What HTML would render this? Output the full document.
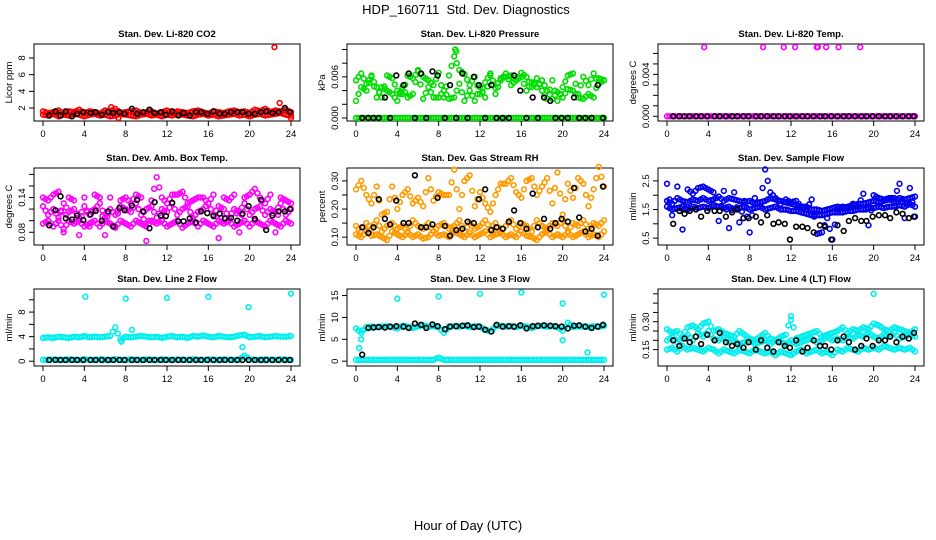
<!DOCTYPE html>
<html><head><meta charset="utf-8"><style>
html,body{margin:0;padding:0;background:#fff}
svg{display:block}
text{font-family:"Liberation Sans",sans-serif}
.pt{font-size:9.5px;font-weight:bold}
.tk{font-size:9.5px}
.yl{font-size:9.5px}
</style></head><body>
<svg id="chart" width="936" height="540" viewBox="0 0 936 540">
<text x="466" y="14" text-anchor="middle" font-size="13">HDP_160711&#160; Std. Dev. Diagnostics</text>
<text x="468" y="530" text-anchor="middle" font-size="13">Hour of Day (UTC)</text>
</svg>
<script>
// half-hour grid positions for band series (hours 0..24)
const bandHours = [0,0.5,1,1.5,2,2.5,3,3.5,4,4.5,5,5.5,6,6.5,7,7.5,8,8.5,9,9.5,10,10.5,11,11.5,12,12.5,13,13.5,14,14.5,15,15.5,16,16.5,17,17.5,18,18.5,19,19.5,20,20.5,21,21.5,22,22.5,23,23.5,24];
const blackHours = [0.6,1.2,1.7,2.2,2.8,3.3,3.9,4.6,5.1,5.7,6.3,6.8,7.4,7.9,8.6,9.1,9.7,10.3,10.8,11.4,11.9,12.5,13.1,13.6,14.2,14.8,15.3,15.9,16.5,17.1,17.6,18.2,18.8,19.3,19.9,20.5,21.1,21.6,22.2,22.8,23.4,23.9];

// Panel 1: CO2
const co2BandA = [1.6,1.4,1.5,1.7,1.3,1.6,1.5,1.8,1.4,1.6,1.5,1.3,1.7,1.6,1.9,1.4,1.5,1.6,1.7,1.4,1.5,1.6,1.3,1.5,1.7,1.4,1.6,1.5,1.4,1.6,1.7,1.5,1.3,1.6,1.5,1.4,1.6,1.7,1.5,1.6,1.4,1.8,1.6,1.9,1.5,1.7,1.6,1.8,1.5];
const co2BandB = [1.2,1.1,1.3,1.0,1.2,1.1,1.3,1.2,1.0,1.2,1.3,1.1,1.2,1.0,1.1,1.3,1.2,1.1,1.0,1.2,1.3,1.1,1.2,1.0,1.2,1.1,1.3,1.2,1.1,1.0,1.2,1.3,1.1,1.2,1.0,1.1,1.2,1.3,1.1,1.2,1.0,1.2,1.3,1.1,1.2,1.3,1.4,1.2,1.1];
const co2Black = [1.1,1.6,1.1,1.6,1.0,1.3,1.5,1.4,1.5,1.2,1.5,1.4,1.5,1.3,1.9,1.3,1.5,1.8,1.4,1.5,1.2,1.6,1.1,1.4,1.1,1.5,1.5,1.3,1.6,1.3,1.3,1.5,1.5,1.5,1.3,1.3,1.5,1.6,1.4,1.5,2.0,1.5];
const co2OutX = [22.4,22.9,24.0,6.6,7.3];
const co2OutY = [9.3,2.6,0.8,2.1,0.8];

// Panel 2: Pressure
const presBandA = [0,0,0,0,0,0,0,0,0,0,0,0,0,0,0,0,0,0,0,0,0,0,0,0,0,0,0,0,0,0,0,0,0,0,0,0,0,0,0,0,0,0,0,0,0,0,0,0,0];
const presBandB = [0.0055,0.0065,0.0050,0.0060,0.0045,0.0030,0.0062,0.0058,0.0040,0.0035,0.0062,0.0058,0.0068,0.0060,0.0055,0.0048,0.0066,0.0030,0.0062,0.0090,0.0070,0.0064,0.0048,0.0060,0.0035,0.0052,0.0065,0.0044,0.0058,0.0060,0.0062,0.0055,0.0066,0.0060,0.0045,0.0058,0.0040,0.0028,0.0055,0.0025,0.0045,0.0062,0.0065,0.0035,0.0060,0.0048,0.0065,0.0050,0.0055];
const presBandC = [0.0025,0.0045,0.0040,0.0062,0.0030,0.0045,0.0040,0.0035,0.0025,0.0045,0.0030,0.0035,0.0070,0.0028,0.0045,0.0030,0.0030,0.0040,0.0028,0.0030,0.0050,0.0025,0.0040,0.0025,0.0045,0.0030,0.0062,0.0035,0.0055,0.0065,0.0048,0.0055,0.0060,0.0040,0.0052,0.0045,0.0055,0.0040,0.0028,0.0038,0.0030,0.0042,0.0040,0.0030,0.0028,0.0035,0.0030,0.0058,0.0055];
const presBlack = [0,0,0,0,0.0030,0,0.0062,0.0048,0.0065,0,0.0065,0,0.0068,0.0062,0,0.0048,0,0.0065,0,0.0060,0.0048,0,0.0048,0,0,0,0.0062,0.0040,0,0.0030,0,0.0030,0.0025,0,0,0,0.0030,0,0,0,0.0048,0];
const presOutX = [9.6,9.7];
const presOutY = [0.0100,0.0097];

// Panel 3: Li-820 temp
const tempBandA = [0,0,0,0,0,0,0,0,0,0,0,0,0,0,0,0,0,0,0,0,0,0,0,0,0,0,0,0,0,0,0,0,0,0,0,0,0,0,0,0,0,0,0,0,0,0,0,0,0];
const tempBlack = [0,0,0,0,0,0,0,0,0,0,0,0,0,0,0,0,0,0,0,0,0,0,0,0,0,0,0,0,0,0,0,0,0,0,0,0,0,0,0,0,0,0];
const tempOutX = [3.6,9.3,11.3,12.4,14.5,14.6,15.4,16.6,18.7];
const tempOutY = [0.0066,0.0066,0.0066,0.0066,0.0066,0.0066,0.0066,0.0066,0.0066];

// Panel 4: Amb box temp
const ambBandA = [0.125,0.11,0.12,0.105,0.13,0.115,0.12,0.105,0.125,0.11,0.12,0.13,0.105,0.12,0.11,0.125,0.12,0.115,0.13,0.11,0.12,0.125,0.105,0.12,0.115,0.13,0.11,0.12,0.125,0.105,0.115,0.12,0.13,0.11,0.125,0.12,0.105,0.12,0.115,0.13,0.11,0.12,0.125,0.11,0.12,0.115,0.13,0.11,0.12];
const ambBandB = [0.095,0.1,0.09,0.1,0.085,0.1,0.095,0.1,0.09,0.095,0.1,0.09,0.1,0.095,0.088,0.1,0.095,0.09,0.1,0.095,0.09,0.1,0.095,0.1,0.09,0.095,0.1,0.088,0.095,0.1,0.09,0.1,0.095,0.09,0.1,0.095,0.1,0.09,0.095,0.1,0.09,0.1,0.095,0.09,0.1,0.095,0.09,0.1,0.095];
const ambBandC = [0.14,0.135,0.145,0.15,0.08,0.14,0.135,0.075,0.14,0.09,0.145,0.14,0.075,0.14,0.09,0.135,0.14,0.13,0.145,0.14,0.065,0.135,0.175,0.14,0.13,0.145,0.145,0.15,0.13,0.135,0.14,0.14,0.13,0.145,0.07,0.14,0.135,0.145,0.08,0.14,0.145,0.155,0.14,0.13,0.145,0.08,0.14,0.135,0.13];
const ambBlack = [0.092,0.118,0.142,0.104,0.102,0.109,0.101,0.111,0.117,0.1,0.116,0.09,0.122,0.118,0.126,0.136,0.116,0.087,0.132,0.109,0.108,0.131,0.099,0.099,0.104,0.097,0.116,0.113,0.108,0.112,0.104,0.105,0.1,0.112,0.125,0.103,0.136,0.084,0.109,0.116,0.116,0.12];

// Panel 5: Gas stream RH
const rhBandA = [0.14,0.12,0.15,0.13,0.16,0.12,0.14,0.15,0.13,0.14,0.12,0.16,0.14,0.13,0.15,0.12,0.14,0.15,0.13,0.14,0.16,0.12,0.15,0.13,0.14,0.16,0.13,0.15,0.12,0.14,0.16,0.13,0.15,0.14,0.12,0.16,0.14,0.13,0.15,0.14,0.16,0.12,0.15,0.14,0.16,0.13,0.15,0.14,0.16];
const rhBandB = [0.11,0.1,0.12,0.105,0.11,0.1,0.09,0.12,0.11,0.1,0.115,0.1,0.11,0.095,0.1,0.12,0.105,0.11,0.1,0.12,0.11,0.1,0.115,0.1,0.11,0.12,0.1,0.11,0.115,0.1,0.11,0.1,0.12,0.105,0.1,0.09,0.11,0.12,0.1,0.11,0.1,0.115,0.1,0.11,0.12,0.1,0.11,0.1,0.12];
const rhBandC = [0.27,0.3,0.25,0.22,0.28,0.18,0.19,0.28,0.2,0.25,0.27,0.22,0.24,0.21,0.31,0.23,0.26,0.25,0.25,0.34,0.2,0.3,0.32,0.21,0.26,0.22,0.19,0.25,0.29,0.29,0.31,0.26,0.24,0.3,0.31,0.25,0.28,0.31,0.22,0.33,0.18,0.29,0.24,0.31,0.29,0.21,0.27,0.35,0.28];
const rhBlack = [0.135,0.115,0.135,0.235,0.165,0.145,0.23,0.15,0.15,0.32,0.135,0.135,0.145,0.24,0.14,0.105,0.125,0.13,0.155,0.15,0.235,0.27,0.125,0.135,0.13,0.155,0.195,0.15,0.13,0.255,0.135,0.165,0.13,0.15,0.165,0.155,0.275,0.17,0.12,0.13,0.105,0.28];

// Panel 6: Sample flow
const flowBandA = [1.8,1.7,1.9,1.8,1.75,1.85,1.8,1.9,1.8,1.85,1.95,1.8,1.9,1.85,1.8,1.75,1.8,1.7,1.75,1.8,1.9,1.85,1.8,1.75,1.7,1.65,1.6,1.6,1.5,1.5,1.45,1.5,1.55,1.6,1.55,1.6,1.65,1.7,1.7,1.75,1.8,1.75,1.8,1.85,1.8,1.9,1.85,1.9,1.95];
const flowBandB = [1.6,1.5,1.55,1.6,1.5,1.6,1.55,1.6,1.55,1.65,1.6,1.55,1.6,1.5,1.55,1.6,1.5,1.55,1.6,1.5,1.55,1.6,1.5,1.5,1.45,1.45,1.4,1.35,1.3,1.3,1.3,1.35,1.4,1.4,1.4,1.45,1.45,1.5,1.5,1.55,1.55,1.6,1.55,1.6,1.6,1.65,1.6,1.7,1.6];
const flowBandC = [2.4,1.3,2.3,0.8,2.2,2.05,2.25,2.3,2.2,2.1,1.1,2.15,0.85,2.1,1.05,1.8,0.7,1.9,1.6,2.9,2.1,1.9,1.7,1.85,1.75,1.8,1.6,1.5,1.85,0.65,0.7,1.2,0.45,1.5,1.6,1.55,1.7,1.6,2.05,0.95,2.0,1.9,1.85,1.9,1.9,2.4,1.2,2.25,1.25];
const flowBlack = [1.0,1.45,1.35,1.45,1.5,1.25,1.45,1.45,1.45,1.25,1.4,1.5,1.2,1.2,1.25,1.05,1.3,1.0,1.05,1.0,0.45,0.9,0.9,0.85,0.7,0.95,0.9,0.45,0.95,0.75,1.1,1.2,1.1,1.1,1.25,1.3,1.3,1.2,1.4,1.35,1.2,1.25];

// Panel 7: Line 2 flow
const l2BandA = [3.8,3.9,3.8,4.0,3.9,3.8,4.0,3.9,4.1,3.9,4.0,3.9,4.0,4.1,5.5,3.5,4.0,3.9,4.0,4.1,4.0,3.9,4.0,3.8,4.0,4.1,3.9,4.0,3.8,4.1,4.0,4.2,4.0,3.9,4.1,4.0,3.9,4.0,4.2,4.3,3.9,4.0,4.1,3.9,4.0,4.1,4.0,4.0,4.1];
const l2BandB = [0.25,0.2,0.3,0.25,0.2,0.3,0.25,0.2,0.3,0.25,0.2,0.3,0.25,0.2,0.3,0.25,0.2,0.3,0.25,0.2,0.3,0.25,0.2,0.3,0.25,0.2,0.3,0.25,0.2,0.3,0.25,0.2,0.3,0.25,0.2,0.3,0.25,0.2,0.3,0.9,0.3,0.25,0.2,0.3,0.25,0.2,0.3,0.25,0.2];
const l2Black = [0.2,0.2,0.2,0.2,0.2,0.2,0.2,0.2,0.2,0.2,0.2,0.2,0.2,0.2,0.2,0.2,0.2,0.2,0.2,0.2,0.2,0.2,0.2,0.2,0.2,0.2,0.2,0.2,0.2,0.2,0.2,0.2,0.2,0.2,0.2,0.2,0.2,0.2,0.2,0.2,0.2,0.2];
const l2OutX = [4.1,8.0,12.0,16.0,19.9,24.0,7.6,8.6,19.3];
const l2OutY = [10.5,10.2,10.3,10.5,8.8,11.0,3.2,5.1,2.3];

// Panel 8: Line 3 flow
const l3BandA = [7.5,6.5,7.8,7.9,7.8,7.9,8.0,7.8,7.5,8.1,7.9,7.6,8.0,8.2,7.9,8.0,7.8,6.5,7.9,8.0,7.9,8.1,7.8,8.0,7.9,7.2,6.8,8.0,8.1,7.9,8.0,7.8,8.1,7.9,7.6,8.0,8.1,7.9,8.0,7.8,7.0,8.8,7.8,8.0,7.9,7.8,8.0,7.9,8.1];
const l3BandB = [0.3,0.3,0.3,0.3,0.3,0.3,0.3,0.3,0.3,0.3,0.3,0.3,0.3,0.3,0.3,0.3,0.8,0.3,0.3,0.3,0.3,0.3,0.3,0.3,0.3,0.3,0.3,0.3,0.3,0.3,0.3,0.3,0.3,0.3,0.3,0.3,0.3,0.3,0.3,0.3,0.3,0.3,0.3,0.3,0.3,0.3,0.3,0.3,0.3];
const l3Black = [1.5,7.6,7.7,7.8,7.7,7.9,8.0,7.9,7.6,8.6,8.3,7.6,8.4,8.0,7.3,7.9,8.0,8.1,8.2,7.8,7.9,7.2,6.8,8.3,7.9,8.0,7.9,8.2,7.5,8.0,8.1,8.2,8.1,8.0,7.9,7.5,8.1,8.2,7.9,7.6,7.9,8.3];
const l3OutX = [0.3,0.5,0.6,4.0,8.0,12.0,16.0,20.0,20.0,22.4,24.0];
const l3OutY = [3.0,5.0,7.0,14.3,14.8,15.4,15.7,13.2,4.8,2.0,15.2];

// Panel 9: Line 4 (LT) flow
const l4BandA = [0.2,0.22,0.19,0.21,0.23,0.2,0.24,0.22,0.25,0.21,0.2,0.22,0.19,0.2,0.18,0.19,0.2,0.18,0.19,0.2,0.18,0.2,0.19,0.18,0.2,0.18,0.19,0.2,0.21,0.19,0.2,0.22,0.2,0.21,0.2,0.22,0.21,0.23,0.22,0.24,0.22,0.21,0.23,0.22,0.24,0.21,0.22,0.23,0.22];
const l4BandB = [0.15,0.16,0.14,0.17,0.15,0.16,0.15,0.14,0.16,0.15,0.13,0.15,0.14,0.13,0.15,0.14,0.13,0.15,0.14,0.13,0.14,0.12,0.14,0.13,0.12,0.14,0.15,0.13,0.14,0.15,0.13,0.14,0.12,0.15,0.14,0.16,0.15,0.14,0.16,0.15,0.16,0.15,0.17,0.16,0.15,0.16,0.15,0.16,0.14];
const l4BandC = [0.26,0.24,0.25,0.22,0.27,0.28,0.26,0.29,0.3,0.25,0.26,0.24,0.23,0.22,0.25,0.23,0.21,0.2,0.22,0.24,0.21,0.2,0.22,0.23,0.33,0.21,0.22,0.23,0.24,0.25,0.22,0.23,0.24,0.25,0.27,0.24,0.26,0.25,0.27,0.26,0.29,0.28,0.26,0.25,0.27,0.26,0.25,0.24,0.26];
const l4Black = [0.2,0.17,0.21,0.19,0.22,0.18,0.23,0.2,0.24,0.19,0.17,0.18,0.16,0.19,0.15,0.2,0.16,0.14,0.19,0.17,0.16,0.2,0.14,0.16,0.2,0.17,0.17,0.15,0.2,0.22,0.19,0.15,0.17,0.21,0.17,0.2,0.2,0.22,0.19,0.22,0.21,0.24];
const l4OutX = [20.0,12.0,4.0];
const l4OutY = [0.45,0.31,0.30];

const NS = "http://www.w3.org/2000/svg";
const svg = document.getElementById('chart');
function mk(tag, attrs, parent){const e=document.createElementNS(NS,tag);for(const k in attrs)e.setAttribute(k,attrs[k]);(parent||svg).appendChild(e);return e;}

const colX = [34, 347, 658];
const rowY = [44, 168, 289];
const W = 266;

const panels = [
 {title:'Stan. Dev. Li-820 CO2', yl:'Licor ppm', ymin:0.44, ymax:9.68, ticks:[2,4,6,8], labels:['2','4','6','8'], col:'#ff0000',
  bands:[co2BandA,co2BandB], black:co2Black, ox:co2OutX, oy:co2OutY},
 {title:'Stan. Dev. Li-820 Pressure', yl:'kPa', ymin:-0.00044, ymax:0.0108, ticks:[0,0.002,0.004,0.006,0.008,0.010], labels:['0.000','','','0.006','',''], col:'#00dd00',
  bands:[presBandA,presBandB,presBandC], black:presBlack, ox:presOutX, oy:presOutY},
 {title:'Stan. Dev. Li-820 Temp.', yl:'degrees C', ymin:-0.00045, ymax:0.0069, ticks:[0,0.001,0.002,0.003,0.004,0.005,0.006], labels:['0.000','','','','0.004','',''], col:'#ff00ff',
  bands:[tempBandA], black:tempBlack, ox:tempOutX, oy:tempOutY},
 {title:'Stan. Dev. Amb. Box Temp.', yl:'degrees C', ymin:0.058, ymax:0.191, ticks:[0.08,0.1,0.12,0.14,0.16,0.18], labels:['0.08','','','0.14','',''], col:'#ff00ff',
  bands:[ambBandA,ambBandB,ambBandC], black:ambBlack, ox:[], oy:[]},
 {title:'Stan. Dev. Gas Stream RH', yl:'percent', ymin:0.072, ymax:0.346, ticks:[0.1,0.15,0.2,0.25,0.3], labels:['0.10','','0.20','','0.30'], col:'#ff9900',
  bands:[rhBandA,rhBandB,rhBandC], black:rhBlack, ox:[], oy:[]},
 {title:'Stan. Dev. Sample Flow', yl:'ml/min', ymin:0.26, ymax:2.95, ticks:[0.5,1,1.5,2,2.5], labels:['0.5','','1.5','','2.5'], col:'#0000ee',
  bands:[flowBandA,flowBandB,flowBandC], black:flowBlack, ox:[], oy:[]},
 {title:'Stan. Dev. Line 2 Flow', yl:'ml/min', ymin:-0.78, ymax:11.76, ticks:[0,2,4,6,8,10], labels:['0','','4','','8',''], col:'#00eeee',
  bands:[l2BandA,l2BandB], black:l2Black, ox:l2OutX, oy:l2OutY},
 {title:'Stan. Dev. Line 3 Flow', yl:'ml/min', ymin:-1.1, ymax:16.5, ticks:[0,5,10,15], labels:['0','5','10','15'], col:'#00eeee',
  bands:[l3BandA,l3BandB], black:l3Black, ox:l3OutX, oy:l3OutY},
 {title:'Stan. Dev. Line 4 (LT) Flow', yl:'ml/min', ymin:0.062, ymax:0.476, ticks:[0.15,0.2,0.25,0.3,0.35,0.4,0.45], labels:['0.15','','','0.30','','',''], col:'#00eeee',
  bands:[l4BandA,l4BandB,l4BandC], black:l4Black, ox:l4OutX, oy:l4OutY}
];

panels.forEach((p,i)=>{
  const L = colX[i%3], T = rowY[Math.floor(i/3)], H = 77;
  const xs = h => L + 9 + h*(W-18)/24;
  const ys = v => T + H - (v - p.ymin)/(p.ymax - p.ymin)*H;
  const g = mk('g',{});
  
  
  const t = mk('text',{x:L+W/2,y:T-7,'text-anchor':'middle',class:'pt'},g); t.textContent=p.title;
  
  
  const box = mk('rect',{x:L,y:T,width:W,height:H,fill:'none',stroke:'#000','stroke-width':1},g);
  
  
  for(let h=0;h<=24;h+=4){
    mk('line',{x1:xs(h),x2:xs(h),y1:T+H,y2:T+H+5,stroke:'#000'},g);
    const tx = mk('text',{x:xs(h),y:T+H+16,'text-anchor':'middle',class:'tk'},g); tx.textContent=h;
    
    
  }
  p.ticks.forEach((v,k)=>{
    const y=ys(v);
    mk('line',{x1:L-5,x2:L,y1:y,y2:y,stroke:'#000'},g);
    if(p.labels[k]){
      const ty = mk('text',{x:L-9,y:y,'text-anchor':'middle',class:'tk',transform:`rotate(-90 ${L-9} ${y})`},g);
      ty.textContent=p.labels[k];
      
      
    }
  });
  const yl = mk('text',{x:L-22,y:T+H/2,'text-anchor':'middle',class:'yl',transform:`rotate(-90 ${L-22} ${T+H/2})`},g);
  yl.textContent=p.yl;
  
  
  const pts = mk('g',{fill:'none','stroke-width':1.6},g);
  
  
  const dot=(h,v,c,nm)=>{
    const c1 = mk('circle',{cx:xs(h),cy:ys(v),r:2.4,stroke:c},pts);
    
    
  };
  p.bands.forEach(b=>{
    b.forEach((v,k)=>{ dot(bandHours[k],v,p.col,'series-point'); if(k<48) dot(bandHours[k]+0.25,(v+b[k+1])/2,p.col,'series-point'); });
  });
  p.ox.forEach((h,k)=>dot(h,p.oy[k],p.col,'outlier-point'));
  p.black.forEach((v,k)=>dot(blackHours[k],v,'#000','hourly-point'));
});
</script>
</body></html>
